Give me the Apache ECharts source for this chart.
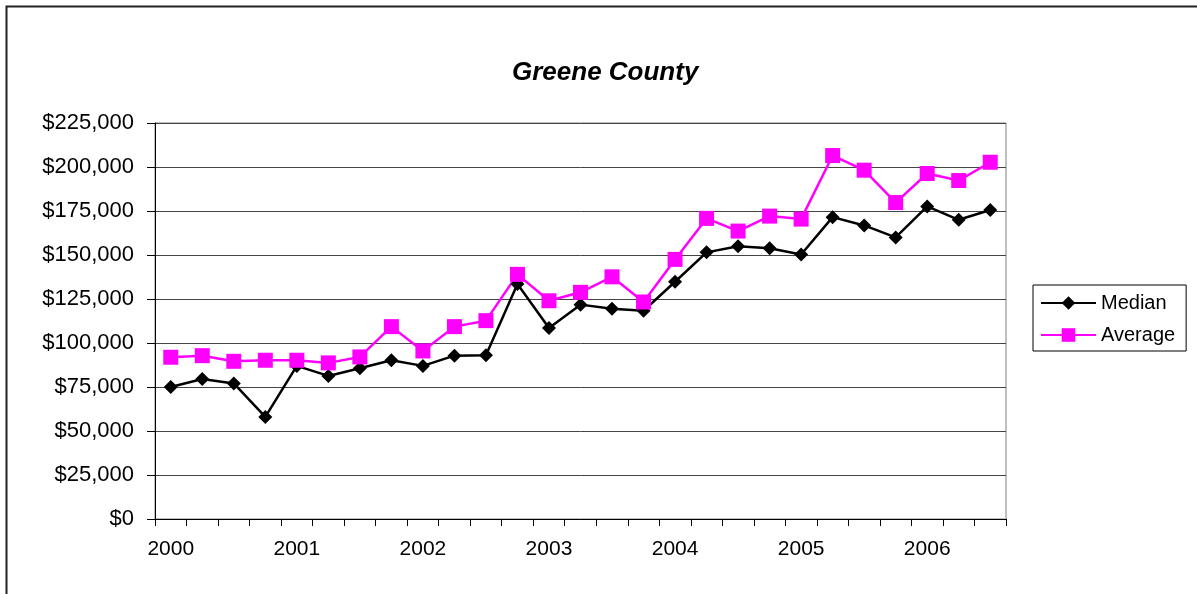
<!DOCTYPE html>
<html>
<head>
<meta charset="utf-8">
<script src="https://cdn.jsdelivr.net/npm/echarts@6/dist/echarts.min.js"></script>
<style>
html,body{margin:0;padding:0;background:#fff;}
#chart{width:1197px;height:594px;}
</style>
</head>
<body>
<div id="chart"></div>
<script>
// Quarterly categories, 2000 Q1 .. 2006 Q3
var quarters = [
  '2000 Q1','2000 Q2','2000 Q3','2000 Q4',
  '2001 Q1','2001 Q2','2001 Q3','2001 Q4',
  '2002 Q1','2002 Q2','2002 Q3','2002 Q4',
  '2003 Q1','2003 Q2','2003 Q3','2003 Q4',
  '2004 Q1','2004 Q2','2004 Q3','2004 Q4',
  '2005 Q1','2005 Q2','2005 Q3','2005 Q4',
  '2006 Q1','2006 Q2','2006 Q3'
];
var yearLabels = ['2000','2001','2002','2003','2004','2005','2006'];

var medianValues = [
  75000, 79500, 77000, 58000,
  87000, 81300, 85700, 90200,
  87000, 92800, 93000, 133500,
  108500, 121800, 119500, 118300,
  134800, 151500, 155000, 153800,
  150300, 171500, 166800, 160000,
  177600, 170000, 175600
];
var averageValues = [
  91900, 92800, 89600, 90200,
  90200, 88700, 92100, 109300,
  95500, 109300, 112700, 139000,
  124000, 128800, 137600, 123300,
  147500, 170800, 163600, 172100,
  170400, 206500, 198200, 179800,
  196300, 192300, 202700
];

var FONT = '"Liberation Sans", Arial, sans-serif';

var chart = echarts.init(document.getElementById('chart'), null, {renderer: 'canvas'});
chart.setOption({
  backgroundColor: '#fff',
  animation: false,
  title: {
    text: 'Greene County',
    left: 512,
    top: 60,
    padding: 0,
    textStyle: {fontFamily: FONT, fontSize: 26, fontWeight: 'bold', fontStyle: 'italic', color: '#000'}
  },
  legend: {
    orient: 'vertical',
    left: 1033,
    top: 285,
    padding: [8, 11, 6, 7],
    itemGap: 12,
    itemWidth: 55,
    itemHeight: 17,
    borderColor: '#000',
    borderWidth: 1,
    textStyle: {fontFamily: FONT, fontSize: 20, color: '#000', lineHeight: 20},
    data: ['Median', 'Average']
  },
  graphic: [
    {type: 'polyline', shape: {points: [[6.5, 594], [6.5, 6.5], [1197, 6.5]]},
     style: {stroke: '#222', lineWidth: 2, fill: null}, silent: true}
  ],
  grid: {left: 155, right: 191, top: 123, bottom: 75,
         show: true, borderColor: '#808080', borderWidth: 1, backgroundColor: 'transparent'},
  xAxis: {
    type: 'category',
    data: quarters,
    boundaryGap: true,
    axisLine: {lineStyle: {color: '#000', width: 1}},
    axisTick: {show: true, interval: 0, length: 7, lineStyle: {color: '#000'}},
    axisLabel: {
      interval: 0, margin: 20, color: '#000', fontFamily: FONT, fontSize: 21,
      formatter: function (v, i) { return i % 4 === 0 ? yearLabels[i / 4] : ''; }
    },
    splitLine: {show: false}
  },
  yAxis: {
    type: 'value',
    min: 0, max: 225000, interval: 25000,
    axisLine: {show: true, lineStyle: {color: '#000', width: 1}},
    axisTick: {show: true, length: 8, inside: false, lineStyle: {color: '#000'}},
    axisLabel: {
      margin: 21, color: '#000', fontFamily: FONT, fontSize: 22,
      formatter: function (v) { return '$' + v.toLocaleString('en-US'); }
    },
    splitLine: {show: true, lineStyle: {color: '#444', width: 1}}
  },
  series: [
    {
      name: 'Median', type: 'line', data: medianValues,
      symbol: 'diamond', symbolSize: 14, showAllSymbol: true,
      lineStyle: {color: '#000', width: 2.5},
      itemStyle: {color: '#000', borderWidth: 0}
    },
    {
      name: 'Average', type: 'line', data: averageValues,
      symbol: 'rect', symbolSize: 15, showAllSymbol: true,
      lineStyle: {color: '#ff00ff', width: 2.5},
      itemStyle: {color: '#ff00ff', borderWidth: 0}
    }
  ]
});
</script>
</body>
</html>
